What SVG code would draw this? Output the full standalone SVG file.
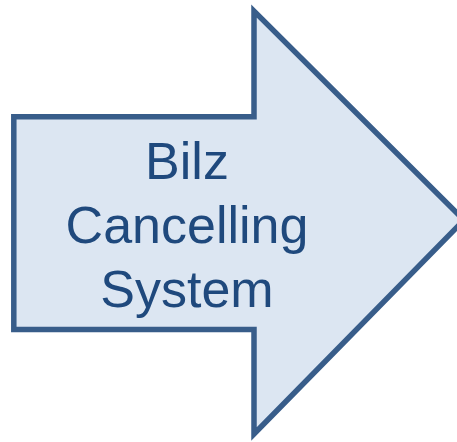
<svg xmlns="http://www.w3.org/2000/svg" width="457" height="442" viewBox="0 0 457 442">
  <style>
    .arrow { fill: #dce6f2; stroke: #385d8a; stroke-width: 5.5; stroke-linejoin: miter; }
    .label { font-family: "Liberation Sans", Arial, sans-serif; font-size: 52px; fill: #1f497d; text-anchor: middle; }
  </style>
  <rect width="457" height="442" fill="#ffffff"/>
  <g id="arrow-node">
    <path class="arrow" d="M13.8,116.7 L254,116.7 L254,11 L464,220 L254,434 L254,329.5 L13.8,329.5 Z"/>
    <text class="label" x="187" y="179.3">Bilz</text>
    <text class="label" x="187" y="243.3">Cancelling</text>
    <text class="label" x="187" y="306.8">System</text>
  </g>
  <g id="connectors"></g>
</svg>
